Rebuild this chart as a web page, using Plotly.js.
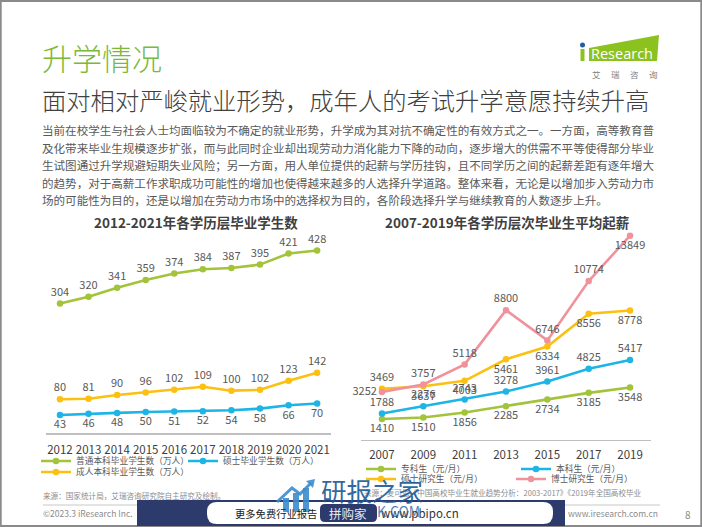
<!DOCTYPE html>
<html><head><meta charset="utf-8">
<script src="https://cdn.plot.ly/plotly-3.0.1.min.js"></script>
<style>html,body{margin:0;padding:0;background:#fff;} #chart{width:702px;height:527px;}</style>
</head><body><div id="chart"></div>
<script>
// ---------- data ----------
const yearsA = ['2012','2013','2014','2015','2016','2017','2018','2019','2020','2021'];
const regularUndergrad = [304,320,341,359,374,384,387,395,421,428];
const masterGrads = [43,46,48,50,51,52,54,58,66,70];
const adultUndergrad = [80,81,90,96,102,109,100,102,123,142];
const namesA = ['普通本科毕业学生数（万人）','硕士毕业学生数（万人）','成人本科毕业学生数（万人）'];

const yearsB = ['2007','2009','2011','2013','2015','2017','2019'];
const juniorSalary = [1410,1510,1856,2285,2734,3185,3548];
const bachelorSalary = [1788,2276,2743,3278,3961,4825,5417];
const masterSalary = [3469,3637,4003,5461,6334,8556,8778];
const doctorSalary = [3252,3757,5118,8800,6746,10774,13849];
const namesB = ['专科生（元/月）','本科生（元/月）','硕士研究生（元/月）','博士研究生（元/月）'];

const titleA = '2012-2021年各学历层毕业学生数';
const titleB = '2007-2019年各学历层次毕业生平均起薪';
const bodyLines = [
 '当前在校学生与社会人士均面临较为不确定的就业形势，升学成为其对抗不确定性的有效方式之一。一方面，高等教育普',
 '及化带来毕业生规模逐步扩张，而与此同时企业却出现劳动力消化能力下降的动向，逐步增大的供需不平等使得部分毕业',
 '生试图通过升学规避短期失业风险；另一方面，用人单位提供的起薪与学历挂钩，且不同学历之间的起薪差距有逐年增大',
 '的趋势，对于高薪工作求职成功可能性的增加也使得越来越多的人选择升学道路。整体来看，无论是以增加步入劳动力市',
 '场的可能性为目的，还是以增加在劳动力市场中的选择权为目的，各阶段选择升学与继续教育的人数逐步上升。'
];

// ---------- helpers ----------
const W = 702, H = 527;
const px = x => x / W;
const py = y => 1 - y / H;
const FONT = 'Noto Sans CJK SC, Noto Sans, sans-serif';
const GREEN = '#a2c33a', BLUE = '#1db4e6', YELLOW = '#fcc012', PINK = '#f0929b';
const LABEL = '#595959';

function lineTrace(x, y, name, color, xa, ya, pos, legendId) {
  return {
    type: 'scatter', mode: 'lines+markers+text', x: x, y: y, name: name,
    xaxis: xa, yaxis: ya, legend: legendId,
    line: {color: color, width: 2.6},
    marker: {color: color, size: 6.5},
    text: y.map(String), textposition: pos,
    textfont: {family: FONT, size: 11, color: LABEL},
    cliponaxis: false, hoverinfo: 'skip'
  };
}

const traces = [
  lineTrace(yearsA, regularUndergrad, namesA[0], GREEN, 'x', 'y', 'top center', 'legend'),
  lineTrace(yearsA, masterGrads, namesA[1], BLUE, 'x', 'y', 'bottom center', 'legend2'),
  lineTrace(yearsA, adultUndergrad, namesA[2], YELLOW, 'x', 'y', 'top center', 'legend3'),
  lineTrace(yearsB, juniorSalary, namesB[0], GREEN, 'x2', 'y2', 'bottom center', 'legend4'),
  lineTrace(yearsB, bachelorSalary, namesB[1], BLUE, 'x2', 'y2', 'top center', 'legend5'),
  lineTrace(yearsB, masterSalary, namesB[2], YELLOW, 'x2', 'y2',
    ['top center','bottom center','bottom center','bottom center','bottom center','bottom center','bottom center'], 'legend6'),
  lineTrace(yearsB, doctorSalary, namesB[3], PINK, 'x2', 'y2',
    ['middle left','top center','top center','top center','top center','top center','bottom center'], 'legend7')
];

function legendAt(textX, rowY) {
  return {x: px(textX - 40), y: py(rowY), xanchor: 'left', yanchor: 'middle',
    orientation: 'h', bgcolor: 'rgba(0,0,0,0)', borderwidth: 0,
    font: {family: FONT, size: 8.7, color: LABEL}};
}

function rr(x0, y0, x1, y1, r) {
  const X = v => px(v).toFixed(5), Y = v => py(v).toFixed(5);
  return `M${X(x0+r)},${Y(y0)} L${X(x1-r)},${Y(y0)} Q${X(x1)},${Y(y0)} ${X(x1)},${Y(y0+r)} ` +
    `L${X(x1)},${Y(y1-r)} Q${X(x1)},${Y(y1)} ${X(x1-r)},${Y(y1)} L${X(x0+r)},${Y(y1)} ` +
    `Q${X(x0)},${Y(y1)} ${X(x0)},${Y(y1-r)} L${X(x0)},${Y(y0+r)} Q${X(x0)},${Y(y0)} ${X(x0+r)},${Y(y0)} Z`;
}
function poly(pts) {
  return 'M' + pts.map(p => px(p[0]).toFixed(5) + ',' + py(p[1]).toFixed(5)).join(' L') + ' Z';
}
function pline(pts) {
  return 'M' + pts.map(p => px(p[0]).toFixed(5) + ',' + py(p[1]).toFixed(5)).join(' L');
}
function ann(text, x, y, size, color, opts) {
  return Object.assign({text: text, x: px(x), y: py(y), xref: 'paper', yref: 'paper',
    xanchor: 'left', yanchor: 'middle', showarrow: false,
    font: {family: FONT, size: size, color: color}}, opts || {});
}
function rect(x0, y0, x1, y1, fill) {
  return {type: 'rect', xref: 'paper', yref: 'paper', x0: px(x0), x1: px(x1), y0: py(y0), y1: py(y1),
    fillcolor: fill, line: {width: 0}, layer: 'above'};
}

const axisX = (dom, standoff) => ({
  type: 'category', domain: dom, showgrid: false, zeroline: false, showline: true,
  linecolor: '#bfbfbf', linewidth: 1.5, ticks: '', ticklabelstandoff: standoff,
  tickfont: {family: FONT, size: 11.5, color: '#404040'}, fixedrange: true
});

const annotations = [
  ann('升学情况', 40, 57, 30, '#7ab93a', {font: {family: FONT, size: 30, color: '#7ab93a', weight: 300}}),
  ann('面对相对严峻就业形势，成年人的考试升学意愿持续升高', 40, 100, 24.3, '#404040',
      {font: {family: FONT, size: 24.3, color: '#404040', weight: 300}}),
  ann('<b>' + titleA + '</b>', 196, 222, 13.5, '#404040', {xanchor: 'center'}),
  ann('<b>' + titleB + '</b>', 507, 222, 13.5, '#404040', {xanchor: 'center'}),
  ann('来源：国家统计局，艾瑞咨询研究院自主研究及绘制。', 41, 495, 7.6, '#8c8c8c'),
  ann('来源：麦可思《中国高校毕业生就业趋势分析：2003-2017》《2019年全国高校毕业', 362, 492, 7.6, '#8c8c8c'),
  ann('©2023.3 iResearch Inc.', 41, 513, 8.5, '#8c8c8c'),
  ann('www.iresearch.com.cn', 660, 513, 8.5, '#8c8c8c', {xanchor: 'right'}),
  ann('8', 688, 514, 10, '#8c8c8c', {xanchor: 'center'}),
  ann('Research', 589, 54, 14.5, '#ffffff', {font: {family: 'Open Sans, sans-serif', size: 14.5, color: '#ffffff'}}),
  ann('艾', 596, 74, 8.5, '#7f7f7f', {xanchor: 'center'}),
  ann('瑞', 615, 74, 8.5, '#7f7f7f', {xanchor: 'center'}),
  ann('咨', 634, 74, 8.5, '#7f7f7f', {xanchor: 'center'}),
  ann('询', 653, 74, 8.5, '#7f7f7f', {xanchor: 'center'}),
  // watermark texts
  ann('更多免费行业报告', 233, 513, 10.3, '#222222'),
  ann('拼购家', 348, 513, 12.5, '#e8e8f0', {xanchor: 'center'}),
  ann('www.pbipo.cn', 379, 513, 11.5, '#333333'),
  ann('K.COM', 375, 511, 14, 'rgba(26,90,150,0.75)'),
  ann('研报之家', 319, 489, 25.5, 'rgba(26,90,150,0.92)')
];
bodyLines.forEach((t, i) => annotations.push(ann(t, 40, 130 + i * 17.6, 11.55, '#595959')));

const shapes = [
  // slide frame
  {type: 'rect', xref: 'paper', yref: 'paper', x0: 0.001, x1: 0.999, y0: 0.002, y1: 0.998,
   line: {color: '#8a8a8a', width: 2}, fillcolor: 'rgba(0,0,0,0)'},
  // footer rule
  {type: 'line', xref: 'paper', yref: 'paper', x0: px(43), x1: px(660), y0: py(505), y1: py(505),
   line: {color: '#c8c8c8', width: 1}},
  // iResearch logo
  {type: 'path', xref: 'paper', yref: 'paper', path: poly([[589,48],[659,35],[657,61],[589,61]]),
   fillcolor: '#8cc21f', line: {width: 0}},
  rect(580.5, 49, 584.5, 61, '#8cc21f'),
  {type: 'circle', xref: 'paper', yref: 'paper', x0: px(580), x1: px(585), y0: py(42.5), y1: py(47.5),
   fillcolor: '#1f5fa8', line: {width: 0}},
  // watermark band
  rect(137, 500, 565, 526, '#2d3a6c'),
  {type: 'path', xref: 'paper', yref: 'paper', path: rr(207, 502, 553, 524, 10),
   fillcolor: '#ffffff', line: {width: 0}, layer: 'above'},
  {type: 'path', xref: 'paper', yref: 'paper', path: rr(320, 504, 377, 522, 5),
   fillcolor: '#2d3a6c', line: {width: 0}, layer: 'above'},
  // watermark icon
  rect(283, 498, 289, 512, 'rgba(58,140,205,0.9)'),
  rect(293, 493, 299, 512, 'rgba(58,140,205,0.9)'),
  rect(303, 488, 309, 512, 'rgba(58,140,205,0.9)'),
  {type: 'path', xref: 'paper', yref: 'paper', path: pline([[277,502],[292,488],[300,494],[311,483]]),
   line: {color: 'rgba(58,140,205,0.9)', width: 3}, layer: 'above'},
  {type: 'path', xref: 'paper', yref: 'paper', path: poly([[315,479],[306,481],[313,488]]),
   fillcolor: 'rgba(58,140,205,0.9)', line: {width: 0}, layer: 'above'}
];

const layout = {
  width: W, height: H, margin: {l: 0, r: 0, t: 0, b: 0},
  paper_bgcolor: '#ffffff', plot_bgcolor: 'rgba(0,0,0,0)',
  font: {family: FONT},
  showlegend: true,
  xaxis: Object.assign(axisX([45.7 / W, 331.4 / W], 5), {range: [-0.5, 9.5]}),
  yaxis: {domain: [py(433.4), py(241.1)], range: [0, 450], visible: false, fixedrange: true},
  xaxis2: Object.assign(axisX([361.3 / W, 650.7 / W], 4), {range: [-0.5, 6.5], anchor: 'y2'}),
  yaxis2: {domain: [py(439.8), py(233.5)], range: [0, 14000], visible: false, fixedrange: true, anchor: 'x2'},
  legend: legendAt(76, 461),
  legend2: legendAt(223, 461),
  legend3: legendAt(76, 472),
  legend4: legendAt(401, 469),
  legend5: legendAt(556, 469),
  legend6: legendAt(401, 479),
  legend7: legendAt(551, 479),
  annotations: annotations,
  shapes: shapes
};
layout.xaxis.anchor = 'y';

Plotly.newPlot('chart', traces, layout, {staticPlot: true, displayModeBar: false});
</script>
</body></html>
